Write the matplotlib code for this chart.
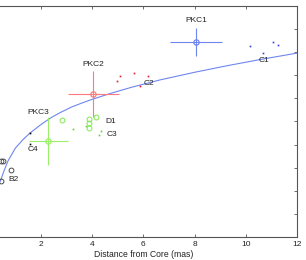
import matplotlib
matplotlib.use('Agg')
import matplotlib.pyplot as plt

plt.rcParams['font.family'] = ['Liberation Sans', 'DejaVu Sans']

# model curve
curve_x = [0.40, 0.55, 0.71, 1.00, 1.30, 1.57, 2.00, 2.40, 2.74, 3.20, 3.60,
           4.00, 4.70, 5.50, 6.65, 8.00, 9.25, 10.55, 12.0]
curve_y = [2.38, 2.85, 3.29, 3.85, 4.22, 4.50, 4.87, 5.17, 5.38, 5.63, 5.80,
           5.96, 6.21, 6.47, 6.80, 7.13, 7.41, 7.68, 7.96]

# components: position, error, colour
pkc_names = ['PKC1', 'PKC2', 'PKC3']
pkc_x = [8.05, 4.04, 2.29]
pkc_y = [8.45, 6.18, 4.16]
pkc_xerr = [1.0, 1.0, 0.75]
pkc_yerr = [0.6, 1.0, 1.05]
pkc_colors = ['#6f86f0', '#ff7b7b', '#9bf06a']

blue_x = [10.16, 10.66, 11.07, 11.27]
blue_y = [8.28, 7.98, 8.45, 8.30]
red_x = [5.10, 4.96, 5.63, 6.17, 5.87]
red_y = [6.98, 6.77, 7.09, 6.98, 6.55]
green_circ_x = [2.83, 3.89, 3.89, 4.14, 3.89]
green_circ_y = [5.06, 5.09, 4.95, 5.18, 4.70]
green_dot_x = [3.24, 3.75, 4.33, 4.28]
green_dot_y = [4.66, 4.82, 4.60, 4.42]
c4_x = [1.57, 1.57]
c4_y = [4.52, 4.03]
black_circ_x = [0.44, 0.51, 0.82, 0.44]
black_circ_y = [3.29, 3.29, 2.89, 2.42]

labels = ['PKC1', 'PKC2', 'PKC3', 'C1', 'C2', 'D1', 'C3', 'C4', 'B2']
label_x = [8.05, 4.03, 1.91, 10.72, 6.23, 4.72, 4.76, 1.70, 0.92]
label_y = [9.39, 7.45, 5.37, 7.66, 6.65, 4.99, 4.45, 3.77, 2.47]

xticks = [0, 2, 4, 6, 8, 10, 12]
yticks = [0, 1, 2, 3, 4, 5, 6, 7, 8, 9, 10]

fig = plt.figure(figsize=(3.06, 2.60), dpi=100)
# the left part of the axes lies beyond the picture, as in the reference crop
ax = fig.add_axes([-0.0333, 0.0885, 1.004, 0.8885])

ax.plot(curve_x, curve_y, color='#6f86f0', lw=0.8)

for i in range(3):
    ax.errorbar(pkc_x[i], pkc_y[i], xerr=pkc_xerr[i], yerr=pkc_yerr[i],
                color=pkc_colors[i], lw=0.8, capsize=0, marker='o', ms=3.8,
                mfc='none', mew=0.9)

ax.plot(blue_x, blue_y, 's', color='#3040e0', ms=1.2, mew=0)
ax.plot(red_x, red_y, 's', color='#e02020', ms=1.2, mew=0)
ax.plot(green_circ_x, green_circ_y, 'o', mfc='none', mec='#80e850', ms=3.5, mew=0.7)
ax.plot(green_dot_x, green_dot_y, 's', color='#60d030', ms=1.2, mew=0)
ax.plot(c4_x, c4_y, 's', color='black', ms=1.2, mew=0)
ax.plot(black_circ_x, black_circ_y, 'o', mfc='none', mec='#333333', ms=3.5, mew=0.6)

for i in range(len(labels)):
    ax.text(label_x[i], label_y[i], labels[i], fontsize=6, ha='center', va='center', color='#222222')

ax.set_xlim(0, 12)
ax.set_ylim(0, 10)
ax.set_xticks(xticks)
ax.set_yticks(yticks)
ax.tick_params(direction='in', length=2.5, width=0.6, top=True, right=True,
               labelsize=6, colors='#555555', labelcolor='#222222', pad=3)
for s in ax.spines.values():
    s.set_color('#555555')
    s.set_linewidth(0.8)
ax.set_xlabel('Distance from Core (mas)', fontsize=6.2, labelpad=1, color='#222222')

fig.savefig('out.png', dpi=100)
